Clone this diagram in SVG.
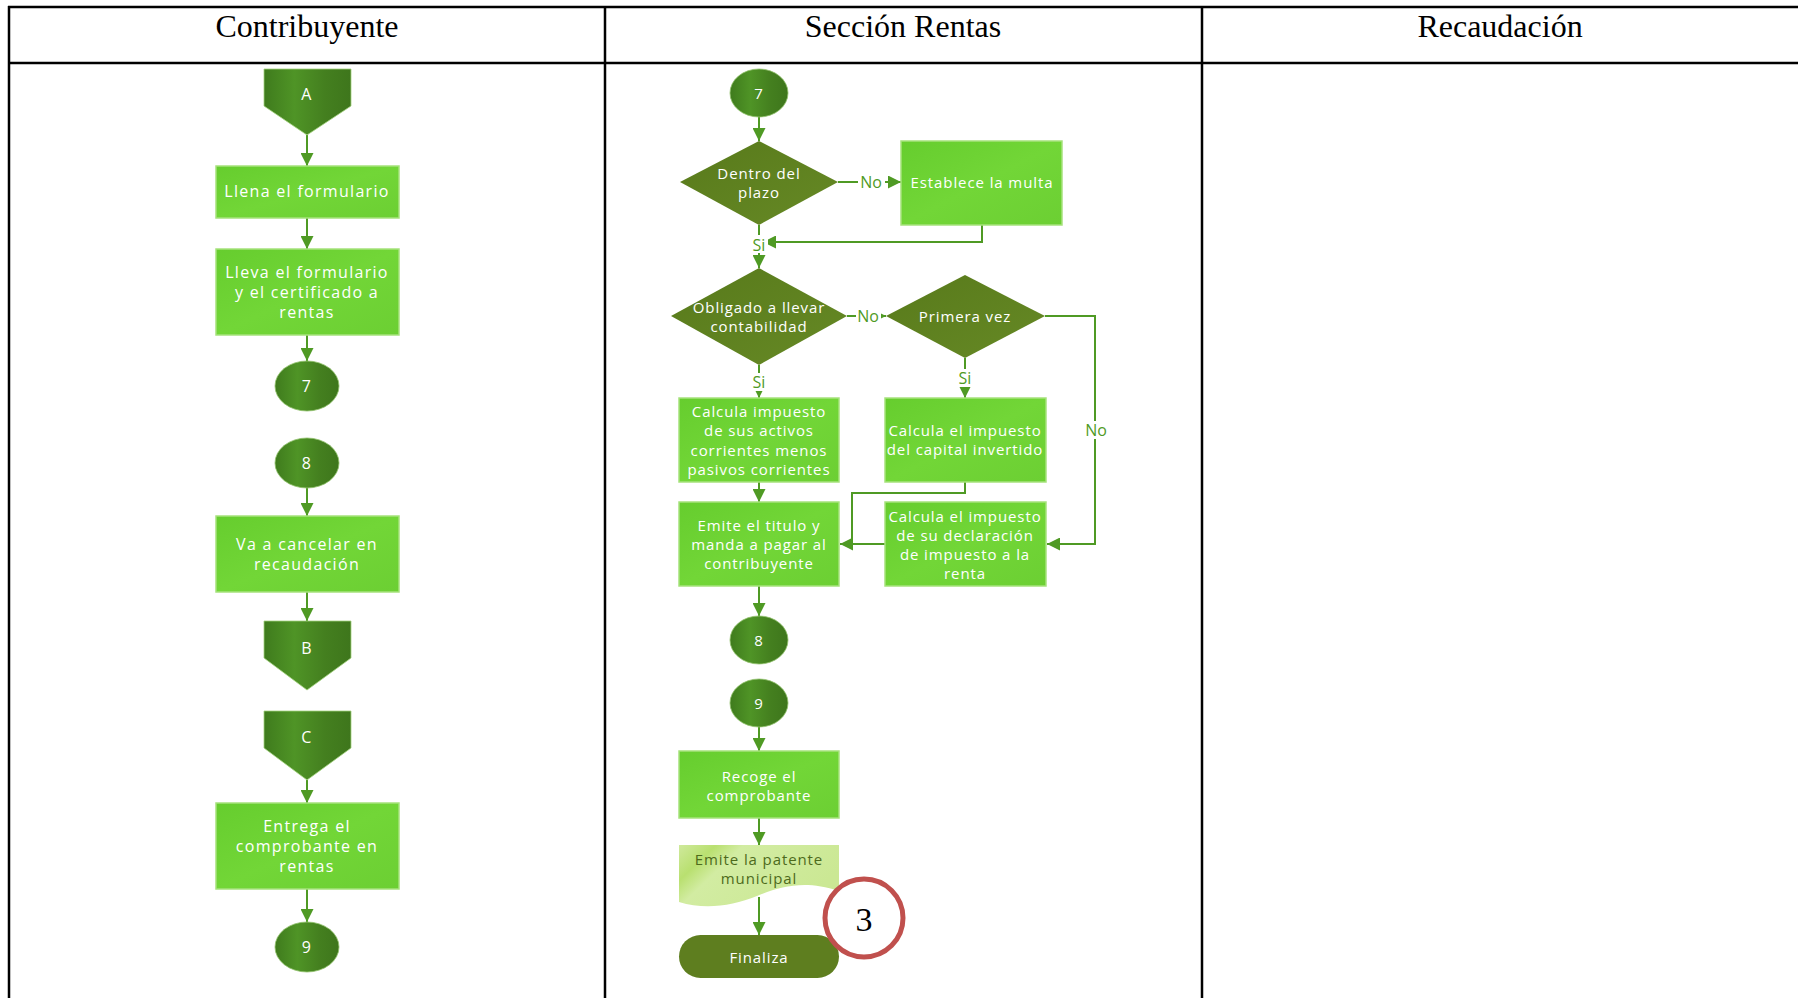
<svg xmlns="http://www.w3.org/2000/svg" width="1798" height="998" viewBox="0 0 1798 998">
  <defs>
    <linearGradient id="gProc" x1="0" y1="0" x2="1" y2="1">
      <stop offset="0" stop-color="#66cd2e"/>
      <stop offset="0.5" stop-color="#72d637"/>
      <stop offset="1" stop-color="#6ccf33"/>
    </linearGradient>
    <linearGradient id="gDec" x1="0" y1="0" x2="1" y2="1">
      <stop offset="0" stop-color="#587a1b"/>
      <stop offset="1" stop-color="#668925"/>
    </linearGradient>
    <linearGradient id="gCon" x1="0" y1="0" x2="1" y2="0">
      <stop offset="0" stop-color="#3f7b1d"/>
      <stop offset="0.35" stop-color="#4f9426"/>
      <stop offset="0.7" stop-color="#447f1f"/>
      <stop offset="1" stop-color="#3e761c"/>
    </linearGradient>
    <linearGradient id="gDoc" x1="0" y1="0" x2="1" y2="0.4">
      <stop offset="0" stop-color="#cfe99c"/>
      <stop offset="0.2" stop-color="#b9e070"/>
      <stop offset="0.35" stop-color="#d2eca2"/>
      <stop offset="1" stop-color="#cbe894"/>
    </linearGradient>
    <marker id="ah" viewBox="0 0 10 10" refX="10" refY="5" markerWidth="6.5" markerHeight="6.5" orient="auto" markerUnits="strokeWidth">
      <path d="M0,0 L10,5 L0,10 Z" fill="#4f9a24"/>
    </marker>
    <style>
      .hdr { font-family: "Liberation Serif", "Times New Roman", serif; font-size: 32px; fill: #000; text-anchor: middle; }
      .grid { stroke: #000; stroke-width: 2.5; fill: none; }
      .proc { fill: url(#gProc); stroke: #a6e27c; stroke-width: 1.5; }
      .dec { fill: url(#gDec); }
      .con { fill: url(#gCon); stroke: #8fc06a; stroke-width: 0.8; }
      .off { fill: url(#gCon); stroke: #a3d27f; stroke-width: 0.8; }
      .doc { fill: url(#gDoc); }
      .term { fill: #5e7e1f; }
      .lbl { font-family: "Open Sans", "Liberation Sans", sans-serif; font-size: 16px; letter-spacing: 1.3px; fill: #fff; text-anchor: middle; dominant-baseline: central; }
      .lbl2 { font-family: "Open Sans", "Liberation Sans", sans-serif; font-size: 15px; letter-spacing: 0.9px; fill: #fff; text-anchor: middle; dominant-baseline: central; }
      .dlbl { font-family: "Open Sans", "Liberation Sans", sans-serif; font-size: 15px; letter-spacing: 0.9px; fill: #4d6a1c; text-anchor: middle; dominant-baseline: central; }
      .edge { stroke: #4f9a24; stroke-width: 2; fill: none; }
      .arr { marker-end: url(#ah); }
      .elbl { font-family: "Open Sans", "Liberation Sans", sans-serif; font-size: 16px; fill: #4f9a24; text-anchor: middle; dominant-baseline: central; }
      .mark { fill: #fff; stroke: #c0504d; stroke-width: 5; }
      .marktxt { font-family: "Liberation Serif", "Times New Roman", serif; font-size: 34px; fill: #000; text-anchor: middle; dominant-baseline: central; }
    </style>
  </defs>

  <rect width="1798" height="998" fill="#fff"/>

  <!-- swimlane table -->
  <g id="lanes">
    <line class="grid" x1="8" y1="7" x2="1798" y2="7"/>
    <line class="grid" x1="8" y1="63" x2="1798" y2="63"/>
    <line class="grid" x1="9" y1="6" x2="9" y2="998"/>
    <line class="grid" x1="605" y1="6" x2="605" y2="998"/>
    <line class="grid" x1="1202" y1="6" x2="1202" y2="998"/>
    <text class="hdr" x="307" y="37">Contribuyente</text>
    <text class="hdr" x="903" y="37">Sección Rentas</text>
    <text class="hdr" x="1500" y="37">Recaudación</text>
  </g>

  <!-- connectors -->
  <g id="connectors">
    <!-- Contribuyente lane -->
    <line class="edge arr" x1="307" y1="135" x2="307" y2="166"/>
    <line class="edge arr" x1="307" y1="218" x2="307" y2="249"/>
    <line class="edge arr" x1="307" y1="335" x2="307" y2="361"/>
    <line class="edge arr" x1="307" y1="488" x2="307" y2="516"/>
    <line class="edge arr" x1="307" y1="592" x2="307" y2="621"/>
    <line class="edge arr" x1="307" y1="780" x2="307" y2="803"/>
    <line class="edge arr" x1="307" y1="889" x2="307" y2="922"/>

    <!-- Sección Rentas lane -->
    <line class="edge arr" x1="759" y1="117" x2="759" y2="141"/>
    <line class="edge arr" x1="838" y1="182" x2="901" y2="182"/>
    <polyline class="edge arr" points="982,225 982,242 763,242"/>
    <line class="edge arr" x1="759" y1="225" x2="759" y2="268"/>
    <line class="edge arr" x1="847" y1="316" x2="886" y2="316"/>
    <polyline class="edge arr" points="1045,316 1095,316 1095,544 1047,544"/>
    <line class="edge arr" x1="759" y1="365" x2="759" y2="398"/>
    <line class="edge arr" x1="965" y1="358" x2="965" y2="398"/>
    <line class="edge arr" x1="759" y1="482" x2="759" y2="502"/>
    <polyline class="edge arr" points="965,482 965,493 852,493 852,544 840,544"/>
    <line class="edge" x1="885" y1="544" x2="852" y2="544"/>
    <line class="edge arr" x1="759" y1="586" x2="759" y2="616"/>
    <line class="edge arr" x1="759" y1="727" x2="759" y2="751"/>
    <line class="edge arr" x1="759" y1="818" x2="759" y2="845"/>
    <line class="edge arr" x1="759" y1="897" x2="759" y2="935"/>

    <!-- branch labels -->
    <rect x="858" y="173" width="27" height="18" fill="#fff"/>
    <text class="elbl" x="871" y="182">No</text>
    <rect x="750" y="235" width="18" height="18" fill="#fff"/>
    <text class="elbl" x="759" y="245">Si</text>
    <rect x="856" y="307" width="25" height="18" fill="#fff"/>
    <text class="elbl" x="868" y="316">No</text>
    <rect x="1083" y="421" width="26" height="18" fill="#fff"/>
    <text class="elbl" x="1096" y="430">No</text>
    <rect x="750" y="373" width="18" height="18" fill="#fff"/>
    <text class="elbl" x="759" y="382">Si</text>
    <rect x="956" y="369" width="18" height="18" fill="#fff"/>
    <text class="elbl" x="965" y="378">Si</text>
  </g>

  <!-- Contribuyente nodes -->
  <g id="offA">
    <polygon class="off" points="264,69 351,69 351,106 307,135 264,106"/>
    <text class="lbl" x="307" y="94">A</text>
  </g>
  <g id="llena">
    <rect class="proc" x="216" y="166" width="183" height="52"/>
    <text class="lbl" x="307" y="191">Llena el formulario</text>
  </g>
  <g id="lleva">
    <rect class="proc" x="216" y="249" width="183" height="86"/>
    <text class="lbl" x="307" y="272">Lleva el formulario</text>
    <text class="lbl" x="307" y="292">y el certificado a</text>
    <text class="lbl" x="307" y="312">rentas</text>
  </g>
  <g id="c7a">
    <ellipse class="con" cx="307" cy="386" rx="32" ry="25"/>
    <text class="lbl" x="307" y="386">7</text>
  </g>
  <g id="c8a">
    <ellipse class="con" cx="307" cy="463" rx="32" ry="25"/>
    <text class="lbl" x="307" y="463">8</text>
  </g>
  <g id="cancelar">
    <rect class="proc" x="216" y="516" width="183" height="76"/>
    <text class="lbl" x="307" y="544">Va a cancelar en</text>
    <text class="lbl" x="307" y="564">recaudación</text>
  </g>
  <g id="offB">
    <polygon class="off" points="264,621 351,621 351,658 307,690 264,658"/>
    <text class="lbl" x="307" y="648">B</text>
  </g>
  <g id="offC">
    <polygon class="off" points="264,711 351,711 351,748 307,780 264,748"/>
    <text class="lbl" x="307" y="737">C</text>
  </g>
  <g id="entrega">
    <rect class="proc" x="216" y="803" width="183" height="86"/>
    <text class="lbl" x="307" y="826">Entrega el</text>
    <text class="lbl" x="307" y="846">comprobante en</text>
    <text class="lbl" x="307" y="866">rentas</text>
  </g>
  <g id="c9a">
    <ellipse class="con" cx="307" cy="947" rx="32" ry="25"/>
    <text class="lbl" x="307" y="947">9</text>
  </g>

  <!-- Sección Rentas nodes -->
  <g id="c7b">
    <ellipse class="con" cx="759" cy="93" rx="29" ry="24"/>
    <text class="lbl2" x="759" y="93">7</text>
  </g>
  <g id="plazo">
    <polygon class="dec" points="759,141 838,182 759,225 680,182"/>
    <text class="lbl2" x="759" y="173">Dentro del</text>
    <text class="lbl2" x="759" y="192">plazo</text>
  </g>
  <g id="multa">
    <rect class="proc" x="901" y="141" width="161" height="84"/>
    <text class="lbl2" x="982" y="182">Establece la multa</text>
  </g>
  <g id="obligado">
    <polygon class="dec" points="759,268 847,316 759,365 671,316"/>
    <text class="lbl2" x="759" y="307">Obligado a llevar</text>
    <text class="lbl2" x="759" y="326">contabilidad</text>
  </g>
  <g id="primera">
    <polygon class="dec" points="965,275 1045,316 965,358 886,316"/>
    <text class="lbl2" x="965" y="316">Primera vez</text>
  </g>
  <g id="activos">
    <rect class="proc" x="679" y="398" width="160" height="84"/>
    <text class="lbl2" x="759" y="411">Calcula impuesto</text>
    <text class="lbl2" x="759" y="430">de sus activos</text>
    <text class="lbl2" x="759" y="450">corrientes menos</text>
    <text class="lbl2" x="759" y="469">pasivos corrientes</text>
  </g>
  <g id="capital">
    <rect class="proc" x="885" y="398" width="161" height="84"/>
    <text class="lbl2" x="965" y="430">Calcula el impuesto</text>
    <text class="lbl2" x="965" y="449">del capital invertido</text>
  </g>
  <g id="titulo">
    <rect class="proc" x="679" y="502" width="160" height="84"/>
    <text class="lbl2" x="759" y="525">Emite el titulo y</text>
    <text class="lbl2" x="759" y="544">manda a pagar al</text>
    <text class="lbl2" x="759" y="563">contribuyente</text>
  </g>
  <g id="declaracion">
    <rect class="proc" x="885" y="502" width="161" height="84"/>
    <text class="lbl2" x="965" y="516">Calcula el impuesto</text>
    <text class="lbl2" x="965" y="535">de su declaración</text>
    <text class="lbl2" x="965" y="554">de impuesto a la</text>
    <text class="lbl2" x="965" y="573">renta</text>
  </g>
  <g id="c8b">
    <ellipse class="con" cx="759" cy="640" rx="29" ry="24"/>
    <text class="lbl2" x="759" y="640">8</text>
  </g>
  <g id="c9b">
    <ellipse class="con" cx="759" cy="703" rx="29" ry="24"/>
    <text class="lbl2" x="759" y="703">9</text>
  </g>
  <g id="recoge">
    <rect class="proc" x="679" y="751" width="160" height="67"/>
    <text class="lbl2" x="759" y="776">Recoge el</text>
    <text class="lbl2" x="759" y="795">comprobante</text>
  </g>
  <g id="patente">
    <path class="doc" d="M679,845 H839 V891 C805,880 782,886 757,896 C732,906 705,910 679,902 Z"/>
    <text class="dlbl" x="759" y="859">Emite la patente</text>
    <text class="dlbl" x="759" y="878">municipal</text>
  </g>
  <g id="finaliza">
    <rect class="term" x="679" y="935" width="160" height="43" rx="21.5"/>
    <text class="lbl2" x="759" y="957">Finaliza</text>
  </g>

  <!-- numbered callout -->
  <g id="callout3">
    <circle class="mark" cx="864" cy="918" r="39"/>
    <text class="marktxt" x="864" y="919">3</text>
  </g>
</svg>
